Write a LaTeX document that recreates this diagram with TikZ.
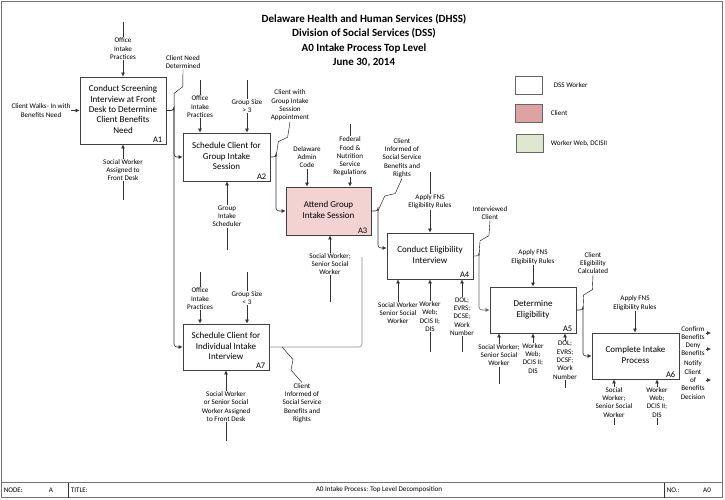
\documentclass[tikz,border=0pt]{standalone}
\usepackage{fontspec}
\setmainfont{Carlito}
\usetikzlibrary{arrows.meta,calc}
\definecolor{clientfill}{HTML}{F2D3D1}
\definecolor{clientkey}{HTML}{DDA3A2}
\definecolor{webkey}{HTML}{DFE8CE}
\newcommand\boxtxt[1]{\raisebox{4.5pt}{\begin{tabular}{@{}c@{}}#1\end{tabular}}}

\begin{document}
\begin{tikzpicture}[x=1pt,y=-1pt,
  box/.style={draw=black!75,line width=0.9pt,rectangle,font=\fontsize{9}{10.4}\selectfont,inner sep=1pt},
  alab/.style={anchor=south east,font=\fontsize{8.5}{9}\selectfont,inner sep=2pt,xshift=-2pt},
  keybox/.style={draw=black!60,line width=0.8pt,minimum width=27pt,minimum height=18pt},
  lbl/.style={align=center,font=\fontsize{7.1}{8.3}\selectfont,fill=white,inner sep=0.6pt},
  note/.style={lbl,fill=none},
  arr/.style={draw=black!80,line width=0.6pt,-{Latex[length=4pt,width=4pt]}},
  ln/.style={draw=black!80,line width=0.6pt},
  squig/.style={dotted,black!65,line width=0.6pt,
    to path={-- ($(\tikztostart)!0.40!(\tikztotarget)!3.5pt!90:(\tikztotarget)$)
      -- ($(\tikztostart)!0.60!(\tikztotarget)!3.5pt!-90:(\tikztotarget)$)
      -- (\tikztotarget) \tikztonodes}}]
  \useasboundingbox (0,0) rectangle (725,499);

  % frame and title block
  \draw[black!55,line width=0.8pt] (1,1) rectangle (722.5,497.5);
  \draw[black!55,line width=1.5pt] (1,482.5) -- (722.5,482.5);
  \draw[black!80,line width=0.8pt] (68,482.5) -- (68,497.5) (664,482.5) -- (664,497.5);
  \node[note,anchor=west] (tbNode) at (3,490) {NODE:};
  \node[note] (tbA) at (51,490) {A};
  \node[note,anchor=west] (tbTitle) at (70,490) {TITLE:};
  \node[note] (tbText) at (379,490) {A0 Intake Process: Top Level Decomposition};
  \node[note,anchor=west] (tbNo) at (666,490) {NO.:};
  \node[note] (tbNum) at (707,490) {A0};

  \node[font=\bfseries\fontsize{11}{14.5}\selectfont,align=center] (title) at (364,40.5)
    {Delaware Health and Human Services (DHSS)\\Division of Social Services (DSS)\\A0 Intake Process Top Level\\June 30, 2014};

  % legend
  \node[keybox] (keyW) at (528.5,85) {};
  \node[keybox,fill=clientkey] (keyC) at (528.5,113) {};
  \node[keybox,fill=webkey] (keyN) at (529.5,143.5) {};
  \node[note,anchor=west] (keyWt) at (553,85) {DSS Worker};
  \node[note,anchor=west] (keyCt) at (550,113) {Client};
  \node[note,anchor=west] (keyNt) at (550,143.5) {Worker Web, DCISII};

  % activities
  \node[box,minimum width=86pt,minimum height=67pt,label={[alab]south east:A1}] (A1) at (123,110.5)
    {\boxtxt{Conduct Screening\\Interview at Front\\Desk to Determine\\Client Benefits\\Need}};
  \node[box,minimum width=87pt,minimum height=48pt,label={[alab]south east:A2}] (A2) at (226.5,157)
    {\boxtxt{Schedule Client for\\Group Intake\\Session}};
  \node[box,fill=clientfill,minimum width=85pt,minimum height=48pt,label={[alab]south east:A3}] (A3) at (328.5,211)
    {\boxtxt{Attend Group\\Intake Session}};
  \node[box,minimum width=86pt,minimum height=46pt,label={[alab]south east:A4}] (A4) at (430,256)
    {\boxtxt{Conduct Eligibility\\Interview}};
  \node[box,minimum width=86pt,minimum height=46pt,label={[alab]south east:A5}] (A5) at (533,310)
    {\boxtxt{Determine\\Eligibility}};
  \node[box,minimum width=87pt,minimum height=46pt,label={[alab]south east:A6}] (A6) at (635.5,356)
    {\boxtxt{Complete Intake\\Process}};
  \node[box,minimum width=86pt,minimum height=46pt,label={[alab]south east:A7}] (A7) at (226,347)
    {\boxtxt{Schedule Client for\\Individual Intake\\Interview}};

  % free ends and bends
  \coordinate (c11) at (123,22);   \coordinate (m11) at (123,200);
  \coordinate (c21) at (200,80);   \coordinate (c22) at (247,80);   \coordinate (m21) at (227,250);
  \coordinate (c32) at (350,124);  \coordinate (m31) at (330,302);
  \coordinate (c41) at (430,172);
  \coordinate (m41) at (398,323);  \coordinate (m42) at (430,352);  \coordinate (m43) at (462,352);
  \coordinate (m51) at (499,384);  \coordinate (m52) at (533,374);  \coordinate (m53) at (565,388);
  \coordinate (m61) at (614,425);  \coordinate (m62) at (657,425);
  \coordinate (c71) at (200,272);  \coordinate (c72) at (247,272);  \coordinate (m71) at (226,441);
  \coordinate (o61) at (711,333);  \coordinate (o62) at (711,349);  \coordinate (o63) at (711,380);
  \coordinate (j1) at (174,110.5); \coordinate (j2) at (276,157);   \coordinate (j3) at (378,211);
  \coordinate (j4) at (479,256);   \coordinate (j5) at (583,310);   \coordinate (j7) at (362,257);
  \coordinate (k7) at (282,347);

  % A1
  \node[note] (lCW) at (41,110.5) {Client Walks- In with\\Benefits Need};
  \draw[arr] (lCW.east) -- (lCW.east -| A1.west);
  \draw[arr] (c11) -- node[lbl,pos=.49] (lC11) {Office\\Intake\\Practices} (A1.north);
  \draw[arr] (m11) -- node[lbl,pos=.54] (lM11) {Social Worker\\Assigned to\\Front Desk} (A1.south);
  \draw[arr,rounded corners=3pt] (A1.east) -| (j1) |- (A2.west);
  \draw[arr,rounded corners=3pt] (A1.east) -| (j1) |- (A7.west);
  \node[note] (lCND) at (183,62) {Client Need\\Determined};
  \draw (lCND.south) to[squig] (j1);

  % A2
  \draw[arr] (c21) -- node[lbl,pos=.51] (lC21) {Office\\Intake\\Practices} (c21 |- A2.north);
  \draw[arr] (c22) -- node[lbl,pos=.49] (lC22) {Group Size\\> 3} (c22 |- A2.north);
  \draw[arr] (m21) -- node[lbl,pos=.49] (lM21) {Group\\Intake\\Scheduler} (m21 |- A2.south);
  \draw[arr,rounded corners=3pt] (A2.east) -| (j2) |- (A3.west);
  \node[note] (lCGI) at (290,105.5) {Client with\\Group Intake\\Session\\Appointment};
  \draw (lCGI.south) to[squig] (j2);

  % A3
  \node[note] (lC31) at (307,157) {Delaware\\Admin\\Code};
  \draw[arr] (lC31.south) -- (lC31.south |- A3.north);
  \draw[arr] (c32) -- node[lbl,pos=.52] (lC32) {Federal\\Food \&\\Nutrition\\Service\\Regulations} (c32 |- A3.north);
  \draw[arr] (m31) -- node[lbl,pos=.57] (lM31) {Social Worker;\\Senior Social\\Worker} (m31 |- A3.south);
  \draw[arr,rounded corners=3pt] (A3.east) -| (j3) |- ([yshift=8pt]A4.west);
  \node[note] (lCIS3) at (402,158) {Client\\Informed of\\Social Service\\Benefits and\\Rights};
  \draw (lCIS3.south) to[squig] (j3);

  % A4
  \draw[arr] (c41) -- node[lbl,pos=.49] (lC41) {Apply FNS\\Eligibility Rules} (A4.north);
  \draw[arr] (m41) -- node[lbl,pos=.23] (lM41) {Social Worker\\Senior Social\\Worker} (m41 |- A4.south);
  \draw[arr] (m42) -- node[lbl,pos=.49] (lM42) {Worker\\Web;\\DCIS II;\\DIS} (m42 |- A4.south);
  \draw[arr] (m43) -- node[lbl,pos=.49] (lM43) {DOL;\\EVRS;\\DCSE;\\Work\\Number} (m43 |- A4.south);
  \draw[arr,black!60,rounded corners=3pt] (A4.east) -| (j4) |- (A5.west);
  \node[note] (lIC) at (490,213) {Interviewed\\Client};
  \draw (lIC.south) to[squig] (j4);

  % A5
  \node[note] (lC51) at (533,257) {Apply FNS\\Eligibility Rules};
  \draw[arr] (lC51.south) -- (lC51.south |- A5.north);
  \draw[arr] (m51) -- node[lbl,pos=.57] (lM51) {Social Worker;\\Senior Social\\Worker} (m51 |- A5.south);
  \draw[arr] (m52) -- node[lbl,pos=.39] (lM52) {Worker\\Web;\\DCIS II;\\DIS} (A5.south);
  \draw[arr] (m53) -- node[lbl,pos=.51] (lM53) {DOL;\\EVRS;\\DCSF;\\Work\\Number} (m53 |- A5.south);
  \draw[arr,rounded corners=3pt] (A5.east) -| (j5) |- (A6.west);
  \node[note] (lCEC) at (593,263) {Client\\Eligibility\\Calculated};
  \draw (lCEC.south) to[squig] (j5);

  % A6
  \node[note] (lC61) at (635,303) {Apply FNS\\Eligibility Rules};
  \draw[arr] (lC61.south) -- (lC61.south |- A6.north);
  \draw[arr] (m61) -- node[lbl,pos=.5] (lM61) {Social\\Worker;\\Senior Social\\Worker} (m61 |- A6.south);
  \draw[arr] (m62) -- node[lbl,pos=.5] (lM62) {Worker\\Web;\\DCIS II;\\DIS} (m62 |- A6.south);
  \node[note] (lO61) at (693,333) {Confirm\\Benefits};
  \node[note] (lO62) at (693,349) {Deny\\Benefits};
  \node[note] (lO63) at (693,380) {Notify\\Client\\of\\Benefits\\Decision};
  \draw[ln,black!55] ([yshift=7pt]A6.east) -- (lO62.west);
  \draw[arr] (lO61.east) -- (o61);
  \draw[arr] (lO62.east) -- (o62);
  \draw[arr] (lO63.east |- o63) -- (o63);

  % A7
  \draw[arr] (c71) -- node[lbl,pos=.52] (lC71) {Office\\Intake\\Practices} (c71 |- A7.north);
  \draw[arr] (c72) -- node[lbl,pos=.5] (lC72) {Group Size\\< 3} (c72 |- A7.north);
  \draw[arr] (m71) -- node[lbl,pos=.49] (lM71) {Social Worker\\or Senior Social\\Worker Assigned\\to Front Desk} (A7.south);
  \draw[ln,black!45,rounded corners=3pt] (A7.east) -| (j7);
  \node[note] (lCIS7) at (302,403) {Client\\Informed of\\Social Service\\Benefits and\\Rights};
  \draw (lCIS7.north) to[squig] (k7);
\end{tikzpicture}
\end{document}
